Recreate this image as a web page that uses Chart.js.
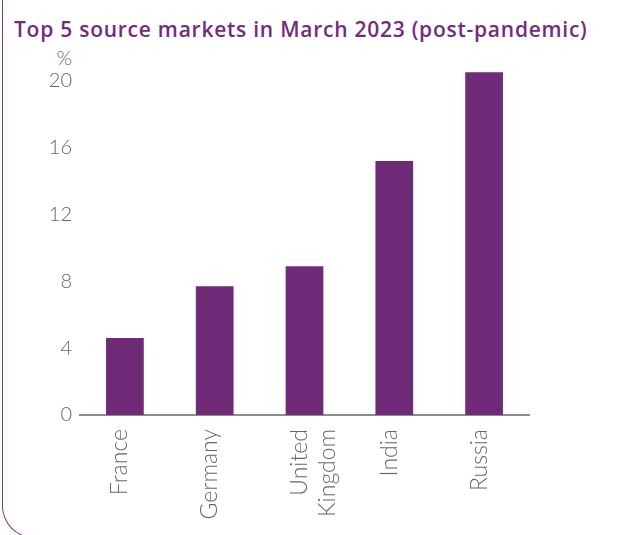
<!DOCTYPE html>
<html>
<head>
<meta charset="utf-8">
<script src="https://cdn.jsdelivr.net/npm/chart.js@4"></script>
<style>
  html, body { margin: 0; padding: 0; background: #fff; overflow: hidden; }
  #wrap { position: relative; width: 618px; height: 535px; }
  #frame {
    position: absolute; left: 2px; top: -10px; width: 700px; height: 548px;
    border-left: 1.5px solid #7b3d86; border-bottom: 1.5px solid #7b3d86;
    border-bottom-left-radius: 32px; box-sizing: border-box;
  }
  #title {
    position: absolute; left: 14px; top: 19px; margin: 0;
    font: 600 21px/21px 'Open Sans'; letter-spacing: 0.75px;
    color: #742b7e; white-space: nowrap;
  }
  #unit {
    position: absolute; right: 546px; top: 46px;
    font: 300 20px/22px Lato; color: #666666;
  }
  canvas { position: absolute; left: 0; top: 0; }
</style>
</head>
<body>
<div id="wrap">
  <div id="frame"></div>
  <div id="title">Top 5 source markets in March 2023 (post-pandemic)</div>
  <div id="unit"></div>
  <canvas id="myChart" width="618" height="535"></canvas>
</div>
<script>
const categories = ['France', 'Germany', ['United', 'Kingdom'], 'India', 'Russia'];
const shares = [4.6, 7.7, 8.9, 15.2, 20.5];
const yTicks = [0, 4, 8, 12, 16, 20];
const unitLabel = '%';

const purple = '#6f2a78';
const grey = '#666666';

document.getElementById('unit').textContent = unitLabel;

var ctx = document.getElementById('myChart').getContext('2d');
let myChart = new Chart(ctx, {
  type: 'bar',
  data: {
    labels: categories,
    datasets: [{
      data: shares,
      backgroundColor: purple,
      borderWidth: 0,
      categoryPercentage: 1,
      barPercentage: 0.42
    }]
  },
  options: {
    responsive: false,
    animation: false,
    layout: { padding: { left: 14, right: 89, top: 64, bottom: 0 } },
    plugins: {
      legend: { display: false },
      tooltip: { enabled: false },
      title: { display: false }
    },
    scales: {
      x: {
        grid: { display: false, drawTicks: false },
        border: { display: true, color: '#8c8c8c', width: 2 },
        ticks: {
          color: grey,
          font: { family: 'Lato', size: 23, weight: '300' },
          minRotation: 90,
          maxRotation: 90,
          padding: 14,
          labelOffset: -5
        },
        afterFit(scale) { scale.height = 120; }
      },
      y: {
        min: 0,
        max: 21,
        grid: { display: false, drawTicks: false },
        border: { display: false },
        afterBuildTicks(axis) {
          axis.ticks = yTicks.map(v => ({ value: v }));
        },
        ticks: {
          color: grey,
          font: { family: 'Lato', size: 20, weight: '300' },
          padding: 8
        },
        afterFit(scale) { scale.width = 66; }
      }
    }
  }
});
</script>
</body>
</html>
